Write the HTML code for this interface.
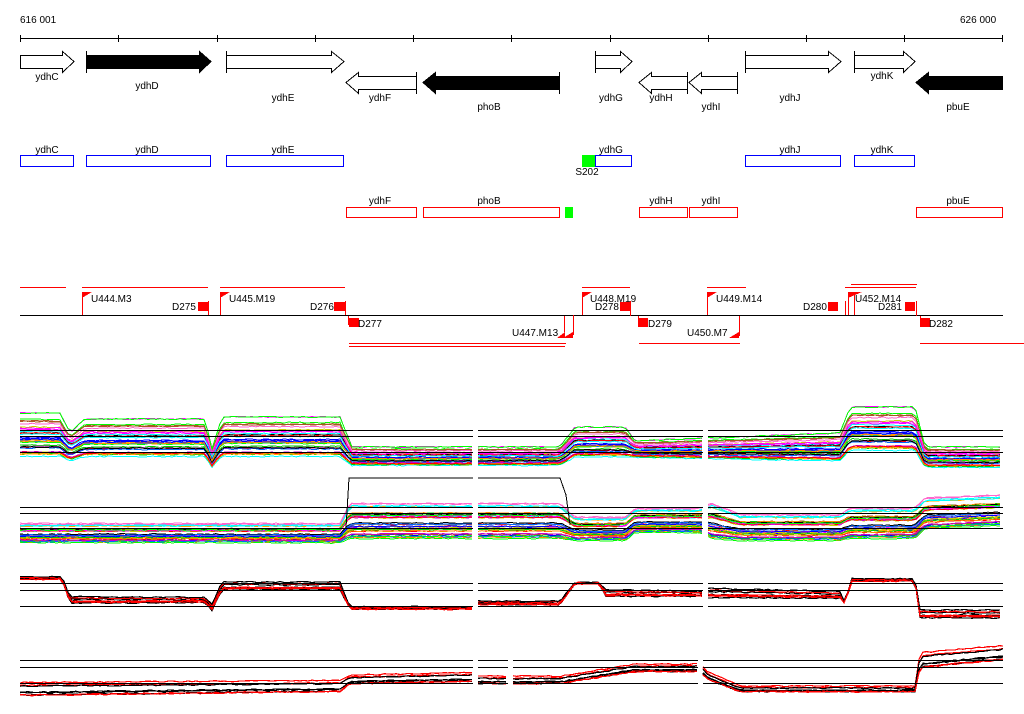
<!DOCTYPE html>
<html><head><meta charset="utf-8"><style>
html,body{margin:0;padding:0;background:#fff;}
svg{display:block;}
text{font-family:"Liberation Sans",sans-serif;font-size:10px;fill:#000;}
</style></head><body>
<svg id="s" width="1024" height="714" xmlns="http://www.w3.org/2000/svg" shape-rendering="crispEdges">
<rect width="1024" height="714" fill="#fff"/>
<text x="20" y="23">616 001</text>
<text x="960" y="23">626 000</text>
<g stroke="#000" stroke-width="1">
<line x1="20" y1="38.5" x2="1003" y2="38.5"/>
<path d="M20.5 35v7M118.5 35v7M217.5 35v7M315.5 35v7M413.5 35v7M511.5 35v7M610.5 35v7M708.5 35v7M806.5 35v7M904.5 35v7M1002.5 35v7"/>
</g>
<g stroke="#000" stroke-width="1" fill="#fff">
<path d="M20.5 55.5H62.5V51.5L74 61.5L62.5 72.5V68.5H20.5Z"/>
<path d="M86.5 55.5H199.5V51.5L211 61.5L199.5 72.5V68.5H86.5Z" fill="#000"/>
<path d="M86.5 51v22"/>
<path d="M226.5 55.5H331.5V51.5L344 61.5L331.5 72.5V68.5H226.5Z"/><path d="M226.5 51v22"/>
<path d="M416.5 76.5H358.5V72.5L346 82.5L358.5 93.5V89.5H416.5Z"/><path d="M416.5 72v22"/>
<path d="M559.5 76.5H435.5V72.5L423 82.5L435.5 93.5V89.5H559.5Z" fill="#000"/><path d="M559.5 72v22"/>
<path d="M595.5 55.5H620.5V51.5L632 61.5L620.5 72.5V68.5H595.5Z"/><path d="M595.5 51v22"/>
<path d="M687.5 76.5H651.5V72.5L639 82.5L651.5 93.5V89.5H687.5Z"/><path d="M687.5 72v22"/>
<path d="M737.5 76.5H701.5V72.5L689 82.5L701.5 93.5V89.5H737.5Z"/><path d="M737.5 72v22"/>
<path d="M745.5 55.5H828.5V51.5L841 61.5L828.5 72.5V68.5H745.5Z"/><path d="M745.5 51v22"/>
<path d="M854.5 55.5H903.5V51.5L915 61.5L903.5 72.5V68.5H854.5Z"/><path d="M854.5 51v22"/>
<path d="M1002.5 76.5H928.5V72.5L916 82.5L928.5 93.5V89.5H1002.5Z" fill="#000"/>
</g>
<g text-anchor="middle">
<text x="47" y="80">ydhC</text><text x="147" y="89">ydhD</text><text x="283" y="101">ydhE</text>
<text x="380" y="101">ydhF</text><text x="489" y="110">phoB</text><text x="611" y="101">ydhG</text>
<text x="661" y="101">ydhH</text><text x="711" y="110">ydhI</text><text x="790" y="101">ydhJ</text>
<text x="882" y="79">ydhK</text><text x="958" y="110">pbuE</text>
<text x="47" y="153">ydhC</text><text x="147" y="153">ydhD</text><text x="283" y="153">ydhE</text>
<text x="611" y="153">ydhG</text><text x="790" y="153">ydhJ</text><text x="882" y="153">ydhK</text>
<text x="587" y="175">S202</text>
<text x="380" y="204">ydhF</text><text x="489" y="204">phoB</text><text x="661" y="204">ydhH</text>
<text x="711" y="204">ydhI</text><text x="958" y="204">pbuE</text>
</g>
<g fill="none" stroke="#00f">
<rect x="20.5" y="155.5" width="53" height="11"/><rect x="86.5" y="155.5" width="124" height="11"/>
<rect x="226.5" y="155.5" width="117" height="11"/><rect x="595.5" y="155.5" width="36" height="11"/>
<rect x="745.5" y="155.5" width="95" height="11"/><rect x="854.5" y="155.5" width="60" height="11"/>
</g>
<rect x="582" y="155" width="13" height="12" fill="#0f0"/>
<g fill="none" stroke="#f00">
<rect x="346.5" y="207.5" width="70" height="10"/><rect x="423.5" y="207.5" width="136" height="10"/>
<rect x="639.5" y="207.5" width="48" height="10"/><rect x="689.5" y="207.5" width="48" height="10"/>
<rect x="916.5" y="207.5" width="86" height="10"/>
</g>
<rect x="565" y="207" width="8" height="11" fill="#0f0"/>
<line x1="20" y1="315.5" x2="1003" y2="315.5" stroke="#000"/>
<g stroke="#f00" fill="none">
<path d="M20 287.5H66M82 287.5H208M220 287.5H345M582 287.5H630M707 287.5H746M845 287.5H916M851 284.5H917M349 343.5H566M349 346.5H565M639 343.5H740M920 343.5H1024"/>
<path d="M82.5 292v23M208.5 301v14M220.5 292v23M345.5 301v14M348.5 316v9M582.5 292v23M573.5 315v20M564.5 316v16M630.5 301v15M638.5 316v10M707.5 292v23M739.5 316v20M845.5 301v14M848.5 292v23M854.5 292v23M916.5 301v15M920.5 316v10"/>
</g>
<g fill="#f00">
<path d="M82 292h10l-10 6z"/><path d="M220 292h10l-10 6z"/><path d="M582 292h10l-10 6z"/><path d="M707 292h10l-10 6z"/><path d="M848 292h14l-14 6z"/>
<path d="M573 338h-10l10-6z"/><path d="M565 338h-8l8-6z"/><path d="M739 338h-10l10-6z"/>
<rect x="198" y="302" width="10" height="9"/><rect x="334" y="302" width="11" height="9"/><rect x="620" y="302" width="10" height="9"/><rect x="828" y="302" width="10" height="9"/><rect x="905" y="302" width="10" height="9"/>
<rect x="349" y="318" width="10" height="9"/><rect x="638" y="318" width="10" height="9"/><rect x="920" y="318" width="10" height="9"/>
</g>
<g font-size="10">
<text x="91" y="302">U444.M3</text><text x="172" y="310">D275</text>
<text x="229" y="302">U445.M19</text><text x="310" y="310">D276</text>
<text x="358" y="327">D277</text><text x="512" y="336">U447.M13</text>
<text x="590" y="302">U448.M19</text><text x="595" y="310">D278</text>
<text x="648" y="327">D279</text><text x="716" y="302">U449.M14</text><text x="687" y="336">U450.M7</text>
<text x="803" y="310">D280</text><text x="855" y="302">U452.M14</text><text x="878" y="310">D281</text>
<text x="929" y="327">D282</text>
</g>
<g id="data"></g>
</svg>
<script>
(function(){
var g=document.getElementById('data');var NS='http://www.w3.org/2000/svg';
function add(tag,attrs){var e=document.createElementNS(NS,tag);for(var k in attrs)e.setAttribute(k,attrs[k]);g.appendChild(e);return e;}
var seed=7;function rnd(){seed=(seed*16807)%2147483647;return seed/2147483647;}
var cols=['#f0f','#0f0','#0ff','#00f','#f00','#f80','#cc0','#888','#a52','#f6c','#0c0','#06f','#c0c','#fa0','#000'];
function prof(P,x){for(var i=0;i<P.length-1;i++){if(x<=P[i+1][0]){var a=P[i],b=P[i+1],t=(x-a[0])/(b[0]-a[0]||1);return [a[1]+(b[1]-a[1])*t,a[2]+(b[2]-a[2])*t];}}var l=P[P.length-1];return [l[1],l[2]];}
function panel(P,n,colors,sw,brk,noise){
 for(var k=0;k<n;k++){var f=Math.pow(rnd(),0.7),c=colors[k%colors.length],j=(rnd()-0.5)*noise;
  brk.forEach(function(s){var pts=[];for(var x=s[0];x<=s[1];x+=4){var r=prof(P,x);var y=r[0]+(r[1]-r[0])*f+j+(rnd()-0.5)*1.2;pts.push(x+','+y.toFixed(1));}
  add('polyline',{points:pts.join(' '),fill:'none',stroke:c,'stroke-width':sw});});}
}
var B=[[20,473],[478,703],[708,1003]];
var P1=[[20,412,458],[60,412,458],[70,432,462],[85,418,458],[205,418,458],[212,448,468],[222,416,458],[340,416,458],[352,446,466],[560,446,466],[575,426,458],[625,426,458],[635,440,458],[840,432,462],[850,406,452],[915,406,452],[925,446,468],[1003,446,468]];
panel(P1,36,cols,1,B,2);
var P2=[[20,522,542],[340,522,542],[350,500,538],[560,500,538],[575,515,540],[625,515,540],[635,506,532],[700,506,532],[712,500,538],[740,512,540],[840,512,540],[850,505,538],[915,505,538],[925,495,528],[1003,492,525]];
panel(P2,36,cols,1,B,2);
add('polyline',{points:'346,528 349,478 473,478',fill:'none',stroke:'#000'});
add('polyline',{points:'478,478 560,478 566,495 570,525',fill:'none',stroke:'#000'});
var P3=[[20,576,580],[62,576,580],[70,595,605],[205,596,604],[212,603,612],[222,580,592],[340,580,592],[350,606,610],[473,606,610],[478,600,606],[560,600,606],[575,582,584],[600,582,584],[605,588,598],[703,590,598],[708,586,600],[840,590,600],[846,605,605],[850,578,582],[915,578,582],[920,608,620],[1003,608,620]];
panel(P3,8,['#000','#f00','#000','#f00'],1.2,B,1);
var P4=[[20,682,696],[340,680,692],[350,675,684],[473,672,682],[478,676,684],[560,676,684],[635,664,672],[700,664,672],[708,672,680],[740,686,692],[915,686,692],[920,652,668],[1003,645,660]];
panel(P4,8,['#000','#f00','#000','#f00'],1.2,[[20,473],[478,508],[513,698],[703,1003]],1);
var B4=[[20,473],[478,508],[513,698],[703,1003]];
var H=[[430,B],[436,B],[452,B],[507,B],[513,B],[528,B],[583,B],[590,B],[606,B],[660,B4],[667,B4],[683,B4]];
H.forEach(function(h){h[1].forEach(function(s){add('line',{x1:s[0],x2:s[1],y1:h[0]+0.5,y2:h[0]+0.5,stroke:'#000'});});});
})();
</script>
</body></html>
